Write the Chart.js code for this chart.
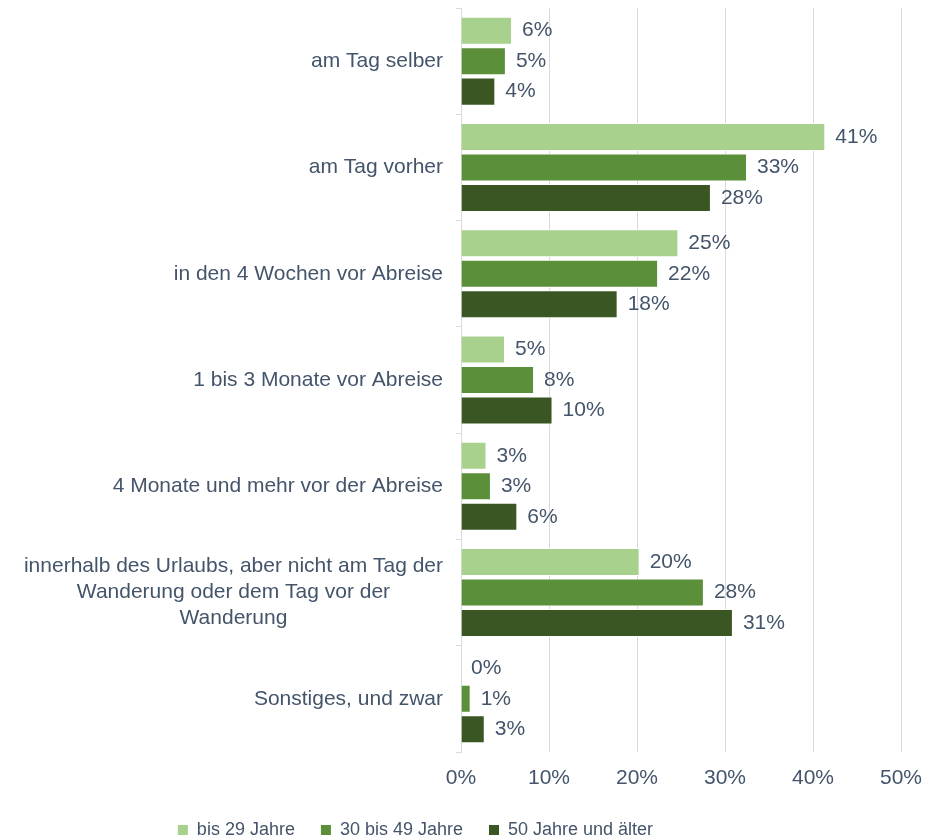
<!DOCTYPE html>
<html>
<head>
<meta charset="utf-8">
<script src="https://cdn.jsdelivr.net/npm/chart.js@4.4.1/dist/chart.umd.min.js"></script>
<style>
  html, body { margin: 0; padding: 0; background: #fff; }
  #wrap { width: 932px; height: 840px; }
</style>
</head>
<body>
<div id="wrap"><canvas id="chart" width="932" height="840"></canvas></div>
<script>
// categories (multi-line ones as arrays)
const categories = [
  'am Tag selber',
  'am Tag vorher',
  'in den 4 Wochen vor Abreise',
  '1 bis 3 Monate vor Abreise',
  '4 Monate und mehr vor der Abreise',
  ['innerhalb des Urlaubs, aber nicht am Tag der', 'Wanderung oder dem Tag vor der', 'Wanderung'],
  'Sonstiges, und zwar'
];

const seriesNames = ['bis 29 Jahre', '30 bis 49 Jahre', '50 Jahre und älter'];

// values in percent
const under30 = [5.8, 41.4, 24.7, 5.0, 2.9, 20.3, 0];
const age30to49 = [5.1, 32.5, 22.4, 8.3, 3.4, 27.6, 1.1];
const age50plus = [3.9, 28.4, 17.8, 10.4, 6.4, 30.9, 2.7];

const xTicks = [0, 10, 20, 30, 40, 50];

const colors = ['#A9D18E', '#5B8F39', '#3A5723'];
const textColor = '#44546A';
const gridColor = '#D9D9D9';
const fontFamily = '"Liberation Sans", Arial, sans-serif';

// value labels to the right of each bar
const valueLabels = {
  id: 'valueLabels',
  afterDatasetsDraw(chart) {
    const ctx = chart.ctx;
    ctx.save();
    ctx.font = '21px ' + fontFamily;
    ctx.fillStyle = textColor;
    ctx.textAlign = 'left';
    ctx.textBaseline = 'middle';
    chart.data.datasets.forEach((ds, i) => {
      chart.getDatasetMeta(i).data.forEach((bar, j) => {
        ctx.fillText(Math.round(ds.data[j]) + '%', bar.x + 10, bar.y);
      });
    });
    ctx.restore();
  }
};

// category labels: right aligned, multi-line blocks centred like Excel does
const categoryLabels = {
  id: 'categoryLabels',
  afterDraw(chart) {
    const ctx = chart.ctx;
    const y = chart.scales.y;
    const right = y.right - 18;
    const lineH = 26;
    ctx.save();
    ctx.font = '21px ' + fontFamily;
    ctx.fillStyle = textColor;
    ctx.textBaseline = 'middle';
    ctx.textAlign = 'center';
    categories.forEach((cat, i) => {
      const lines = Array.isArray(cat) ? cat : [cat];
      const widest = Math.max(...lines.map(l => ctx.measureText(l).width));
      const cx = right - widest / 2;
      const cy = y.getPixelForValue(i);
      const top = cy - (lines.length - 1) * lineH / 2;
      lines.forEach((l, k) => ctx.fillText(l, cx, top + k * lineH));
    });
    ctx.restore();
  }
};

const ctx = document.getElementById('chart').getContext('2d');

new Chart(ctx, {
  type: 'bar',
  data: {
    labels: categories,
    datasets: [
      { label: seriesNames[0], data: under30, backgroundColor: colors[0] },
      { label: seriesNames[1], data: age30to49, backgroundColor: colors[1] },
      { label: seriesNames[2], data: age50plus, backgroundColor: colors[2] }
    ].map(d => Object.assign(d, {
      borderColor: '#ffffff',
      borderWidth: 1,
      categoryPercentage: 0.86,
      barPercentage: 0.92
    }))
  },
  options: {
    indexAxis: 'y',
    responsive: false,
    animation: false,
    layout: { padding: { top: 8, right: 31, bottom: -9, left: 0 } },
    scales: {
      x: {
        min: 0,
        max: 50,
        afterBuildTicks: axis => { axis.ticks = xTicks.map(v => ({ value: v })); },
        afterFit: axis => {
          axis.height = 63;
          axis.paddingRight = 0;
        },
        grid: { color: gridColor, drawTicks: false },
        border: { display: false },
        ticks: {
          padding: 14,
          color: textColor,
          font: { family: fontFamily, size: 21 },
          callback: v => v + '%'
        }
      },
      y: {
        afterFit: axis => { axis.width = 461; },
        grid: { color: gridColor, drawOnChartArea: false, tickLength: 5 },
        border: { color: gridColor },
        ticks: { display: false }
      }
    },
    plugins: {
      legend: {
        position: 'bottom',
        labels: {
          boxWidth: 10,
          boxHeight: 10,
          padding: 6,
          color: textColor,
          font: { family: fontFamily, size: 18 },
          // trailing spaces give the wide gaps and left shift of the Excel legend
          generateLabels: chart => {
            const items = Chart.defaults.plugins.legend.labels.generateLabels(chart);
            items.forEach((it, i) => {
              it.text += '\u00a0'.repeat(i < items.length - 1 ? 4 : 14);
              it.lineWidth = 0;
            });
            return items;
          }
        }
      },
      tooltip: { enabled: false }
    }
  },
  plugins: [valueLabels, categoryLabels]
});
</script>
</body>
</html>
